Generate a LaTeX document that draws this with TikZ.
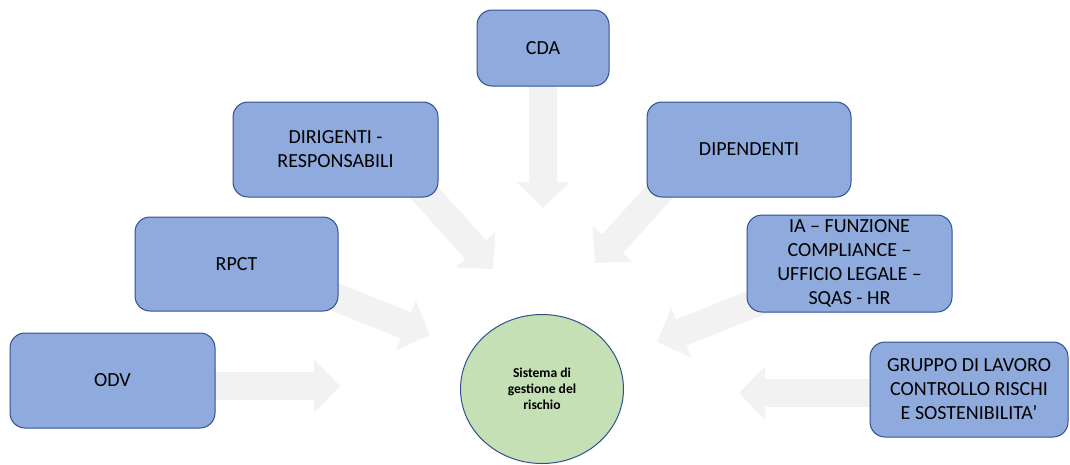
\documentclass[tikz,border=0pt]{standalone}
\usepackage{fontspec}
\setmainfont{Carlito}
\usetikzlibrary{arrows.meta, shapes.geometric, backgrounds}
\definecolor{boxblue}{HTML}{8FAADC}
\definecolor{boxline}{HTML}{2F528F}
\definecolor{riskgreen}{HTML}{C5E0B4}
\definecolor{flowgray}{HTML}{F2F2F2}
\tikzset{actor/.style={draw=boxline, fill=boxblue, line width=1pt, rounded corners=15pt, align=center, inner sep=0pt, font=\fontsize{20}{24}\selectfont}}
\tikzset{risk/.style={ellipse, draw=boxline, fill=riskgreen, line width=1pt, align=center, inner sep=0pt, font=\fontsize{13.6}{16}\selectfont\bfseries}}
\tikzset{flow/.style={draw=flowgray, line width=28pt, -{Triangle[length=26pt, width=52pt]}}}

\begin{document}
\begin{tikzpicture}[x=1pt, y=-1pt]
            \useasboundingbox (0,0) rectangle (1070,464);
            \node[actor, minimum width=132pt, minimum height=76pt] (cda) at (543,48) {CDA};
            \node[actor, minimum width=205pt, minimum height=95pt] (dir) at (335.5,149.5) {DIRIGENTI -\\ RESPONSABILI};
            \node[actor, minimum width=204pt, minimum height=95pt] (dip) at (749,149.5) {DIPENDENTI};
            \node[actor, minimum width=203pt, minimum height=94pt] (rpct) at (236.5,264) {RPCT};
            \node[actor, minimum width=205pt, minimum height=97pt] (ia) at (849.5,263.5) {IA -- FUNZIONE\\ COMPLIANCE --\\ UFFICIO LEGALE --\\ SQAS - HR};
            \node[actor, minimum width=205pt, minimum height=95pt] (odv) at (112.5,380.5) {ODV};
            \node[actor, minimum width=198pt, minimum height=95pt] (grp) at (969,389.5) {GRUPPO DI LAVORO\\ CONTROLLO RISCHI\\ E SOSTENIBILITA’};
            \node[risk, minimum width=163pt, minimum height=149pt] (rischio) at (542,389) {Sistema di\\ gestione del\\ rischio};
            % punte delle frecce
            \coordinate (cdaTip) at (543,208);
            \coordinate (dirTip) at (493,269);
            \coordinate (dipTip) at (595,263);
            \coordinate (rpctTip) at (430,335);
            \coordinate (iaTip) at (657,342);
            \coordinate (odvTip) at (340,386);
            \coordinate (grpTip) at (739,393);
            \begin{scope}[on background layer]
                \draw[flow] (cda) -- (cdaTip);
                \draw[flow] ([xshift=50pt]dir.center) -- (dirTip);
                \draw[flow] ([xshift=-51pt]dip.center) -- (dipTip);
                \draw[flow] ([xshift=16pt]rpct.center) -- (rpctTip);
                \draw[flow] ([xshift=5pt]ia.center) -- (iaTip);
                \draw[flow] ([yshift=-5.5pt]odv.center) -- (odvTip);
                \draw[flow] ([yshift=-3.5pt]grp.center) -- (grpTip);
            \end{scope}
        \end{tikzpicture}
\end{document}
